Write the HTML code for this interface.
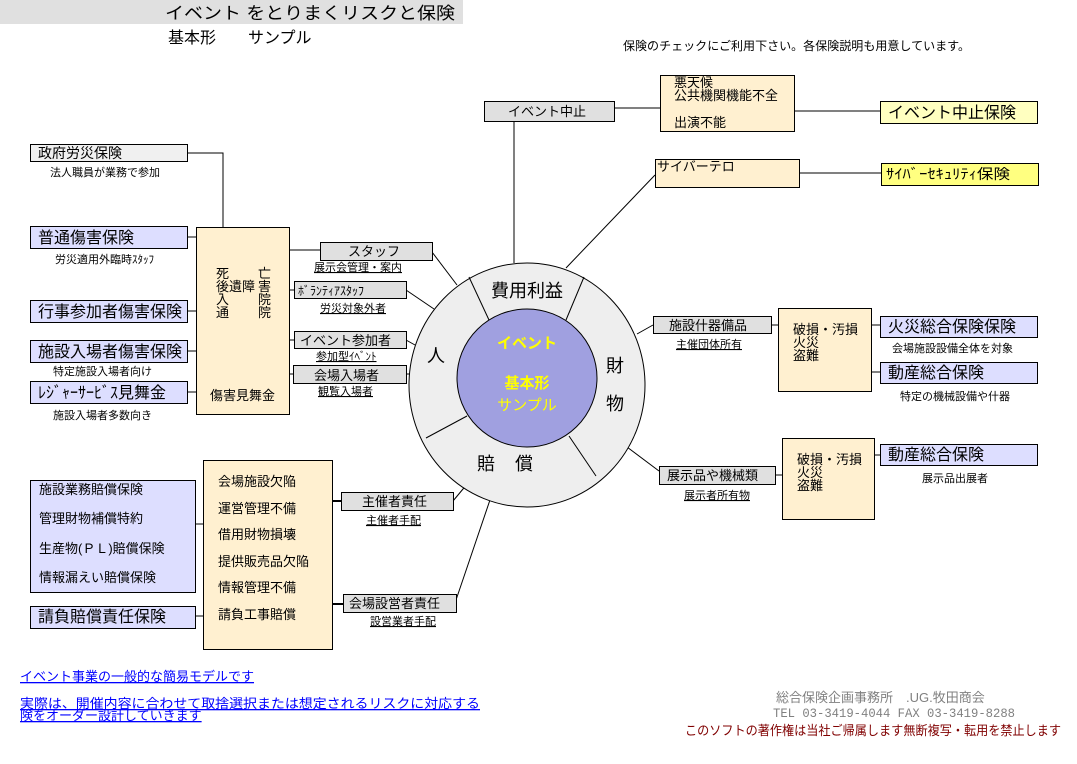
<!DOCTYPE html>
<html><head><meta charset="utf-8"><style>
html,body{margin:0;padding:0;background:#fff;}
svg{display:block;font-family:"Liberation Sans","Noto Sans CJK JP",sans-serif;}
</style></head><body>
<svg width="1077" height="764" viewBox="0 0 1077 764" xmlns="http://www.w3.org/2000/svg">
<g fill="#000" stroke="none">
<rect x="0" y="0" width="463" height="24" fill="#e0e0e0"/>
<text x="165" y="19" font-size="17" textLength="290" lengthAdjust="spacingAndGlyphs">イベント をとりまくリスクと保険</text>
<text x="168" y="43" font-size="16">基本形　　サンプル</text>
<text x="623" y="50" font-size="12" textLength="347" lengthAdjust="spacingAndGlyphs">保険のチェックにご利用下さい。各保険説明も用意しています。</text>
</g>

<!-- connectors -->
<g stroke="#000" stroke-width="1" fill="none">
<polyline points="187,153 223,153 223,227"/>
<line x1="187" y1="237" x2="196" y2="237"/>
<line x1="187" y1="311" x2="196" y2="311"/>
<line x1="187" y1="351" x2="196" y2="351"/>
<line x1="187" y1="392" x2="196" y2="392"/>
<line x1="289" y1="250" x2="320" y2="250"/>
<line x1="289" y1="290" x2="294" y2="290"/>
<line x1="289" y1="340" x2="294" y2="340"/>
<line x1="289" y1="374" x2="293" y2="374"/>
<line x1="432" y1="252" x2="457" y2="285"/>
<line x1="406" y1="290" x2="434" y2="309"/>
<line x1="406" y1="340" x2="415" y2="345"/>
<line x1="406" y1="374" x2="410" y2="374"/>
<line x1="514" y1="121" x2="514" y2="263"/>
<line x1="614" y1="108" x2="660" y2="108"/>
<line x1="795" y1="111" x2="880" y2="111"/>
<line x1="655" y1="175" x2="566" y2="268"/>
<line x1="799" y1="173" x2="881" y2="173"/>
<line x1="653" y1="325" x2="637" y2="334"/>
<line x1="771" y1="325" x2="778" y2="325"/>
<line x1="871" y1="325" x2="880" y2="325"/>
<line x1="871" y1="372" x2="880" y2="372"/>
<line x1="659" y1="471" x2="627" y2="447"/>
<line x1="775" y1="475" x2="782" y2="475"/>
<line x1="874" y1="455" x2="880" y2="455"/>
<line x1="195" y1="524" x2="203" y2="524"/>
<line x1="195" y1="616" x2="203" y2="616"/>
<line x1="329" y1="501" x2="341" y2="501" stroke-width="2"/>
<line x1="332" y1="604" x2="343" y2="604" stroke-width="2"/>
<line x1="453" y1="501" x2="468" y2="483"/>
<line x1="456" y1="600" x2="492" y2="494"/>
</g>

<!-- circle -->
<ellipse cx="527" cy="385" rx="118" ry="122" fill="#eeeeee" stroke="#000" stroke-width="1"/>
<g stroke="#000" stroke-width="1">
<line x1="469" y1="277" x2="489" y2="320"/>
<line x1="584" y1="277" x2="566" y2="320"/>
<line x1="426" y1="438" x2="467" y2="416"/>
<line x1="569" y1="436" x2="596" y2="476"/>
</g>
<ellipse cx="527" cy="378" rx="70" ry="69" fill="#a0a0e0" stroke="#000" stroke-width="1"/>
<g font-size="18" fill="#000">
<text x="491" y="297">費用利益</text>
<text x="427" y="362">人</text>
<text x="606" y="372">財</text>
<text x="606" y="410">物</text>
<text x="477" y="470">賠</text>
<text x="515" y="470">償</text>
</g>
<g fill="#ffff00" font-size="15" text-anchor="middle">
<text x="527" y="348" font-weight="bold">イベント</text>
<text x="527" y="388" font-weight="bold">基本形</text>
<text x="527" y="410">サンプル</text>
</g>

<!-- boxes -->
<g stroke="#000" stroke-width="1">
<rect x="30.5" y="144.5" width="157" height="17" fill="#f0f0f0"/>
<rect x="196.5" y="227.5" width="93" height="187" fill="#fff0d0"/>
<rect x="30.5" y="226.5" width="157" height="22" fill="#dddeff"/>
<rect x="30.5" y="300.5" width="157" height="22" fill="#dddeff"/>
<rect x="30.5" y="340.5" width="157" height="22" fill="#dddeff"/>
<rect x="30.5" y="381.5" width="157" height="22" fill="#dddeff"/>
<rect x="320.5" y="242.5" width="112" height="18" fill="#e0e0e0"/>
<rect x="294.5" y="281.5" width="112" height="17" fill="#e0e0e0"/>
<rect x="294.5" y="331.5" width="112" height="17" fill="#e0e0e0"/>
<rect x="293.5" y="365.5" width="113" height="18" fill="#e0e0e0"/>
<rect x="484.5" y="101.5" width="130" height="20" fill="#e0e0e0"/>
<rect x="660.5" y="75.5" width="134" height="56" fill="#fff0d0"/>
<rect x="880.5" y="101.5" width="157" height="22" fill="#ffffc0"/>
<rect x="655.5" y="159.5" width="144" height="28" fill="#fff0d0"/>
<rect x="881.5" y="163.5" width="157" height="22" fill="#ffff80"/>
<rect x="653.5" y="316.5" width="118" height="17" fill="#e0e0e0"/>
<rect x="778.5" y="308.5" width="93" height="83" fill="#fff0d0"/>
<rect x="880.5" y="316.5" width="157" height="21" fill="#dddeff"/>
<rect x="880.5" y="362.5" width="157" height="21" fill="#dddeff"/>
<rect x="659.5" y="466.5" width="116" height="18" fill="#e0e0e0"/>
<rect x="782.5" y="438.5" width="92" height="81" fill="#fff0d0"/>
<rect x="880.5" y="444.5" width="157" height="21" fill="#dddeff"/>
<rect x="30.5" y="480.5" width="165" height="112" fill="#dddeff"/>
<rect x="30.5" y="606.5" width="165" height="22" fill="#dddeff"/>
<rect x="203.5" y="460.5" width="129" height="189" fill="#fff0d0"/>
<rect x="341.5" y="492.5" width="112" height="18" fill="#e0e0e0"/>
<rect x="343.5" y="594.5" width="113" height="18" fill="#e0e0e0"/>
</g>

<!-- texts -->
<g fill="#000">
<text x="38" y="158" font-size="14">政府労災保険</text>
<text x="50" y="176" font-size="11">法人職員が業務で参加</text>
<g font-size="13">
<text x="216" y="278">死</text><text x="258" y="278">亡</text>
<text x="216" y="291">後</text><text x="229" y="291">遺障</text><text x="258" y="291">害</text>
<text x="216" y="304">入</text><text x="258" y="304">院</text>
<text x="216" y="317">通</text><text x="258" y="317">院</text>
<text x="210" y="400">傷害見舞金</text>
</g>
<g font-size="16">
<text x="38" y="243">普通傷害保険</text>
<text x="38" y="317">行事参加者傷害保険</text>
<text x="38" y="357">施設入場者傷害保険</text>
<text x="38" y="398" textLength="128" lengthAdjust="spacingAndGlyphs">ﾚｼﾞｬｰｻｰﾋﾞｽ見舞金</text>
</g>
<g font-size="11">
<text x="55" y="263">労災適用外臨時ｽﾀｯﾌ</text>
<text x="53" y="375">特定施設入場者向け</text>
<text x="53" y="419">施設入場者多数向き</text>
</g>
<g font-size="13">
<text x="348" y="256">スタッフ</text>
<text x="298" y="295" font-size="12">ﾎﾞﾗﾝﾃｨｱｽﾀｯﾌ</text>
<text x="300" y="345">イベント参加者</text>
<text x="314" y="380">会場入場者</text>
<text x="508" y="116">イベント中止</text>
<text x="674" y="87">悪天候</text>
<text x="674" y="100">公共機関機能不全</text>
<text x="674" y="127">出演不能</text>
<text x="657" y="171">サイバーテロ</text>
<text x="669" y="330">施設什器備品</text>
<text x="793" y="334">破損・汚損</text>
<text x="793" y="347">火災</text>
<text x="793" y="360">盗難</text>
<text x="667" y="480">展示品や機械類</text>
<text x="797" y="464">破損・汚損</text>
<text x="797" y="477">火災</text>
<text x="797" y="490">盗難</text>
<text x="39" y="494">施設業務賠償保険</text>
<text x="39" y="523">管理財物補償特約</text>
<text x="39" y="553">生産物(ＰＬ)賠償保険</text>
<text x="39" y="582">情報漏えい賠償保険</text>
<text x="218" y="486">会場施設欠陥</text>
<text x="218" y="513">運営管理不備</text>
<text x="218" y="539">借用財物損壊</text>
<text x="218" y="566">提供販売品欠陥</text>
<text x="218" y="592">情報管理不備</text>
<text x="218" y="619">請負工事賠償</text>
<text x="362" y="506">主催者責任</text>
<text x="349" y="608">会場設営者責任</text>
</g>
<g font-size="16">
<text x="888" y="118">イベント中止保険</text>
<text x="886" y="179" font-size="14" textLength="124" lengthAdjust="spacingAndGlyphs">ｻｲﾊﾞｰｾｷｭﾘﾃｨ保険</text>
<text x="888" y="332">火災総合保険保険</text>
<text x="888" y="378">動産総合保険</text>
<text x="888" y="460">動産総合保険</text>
<text x="38" y="622">請負賠償責任保険</text>
</g>
<g font-size="11" text-decoration="underline">
<text x="314" y="271">展示会管理・案内</text>
<text x="320" y="312">労災対象外者</text>
<text x="316" y="360">参加型ｲﾍﾞﾝﾄ</text>
<text x="318" y="395">観覧入場者</text>
<text x="676" y="348">主催団体所有</text>
<text x="684" y="499">展示者所有物</text>
<text x="366" y="524">主催者手配</text>
<text x="370" y="625">設営業者手配</text>
</g>
<g font-size="11">
<text x="892" y="352">会場施設設備全体を対象</text>
<text x="900" y="400">特定の機械設備や什器</text>
<text x="922" y="482">展示品出展者</text>
</g>
</g>
<g fill="#0000ff" font-size="13" text-decoration="underline">
<text x="20" y="681">イベント事業の一般的な簡易モデルです</text>
<text x="20" y="708" textLength="460" lengthAdjust="spacingAndGlyphs">実際は、開催内容に合わせて取捨選択または想定されるリスクに対応する</text>
<text x="20" y="720">険をオーダー設計していきます</text>
</g>
<text x="776" y="702" font-size="13" fill="#808080">総合保険企画事務所　.UG.牧田商会</text>
<text x="773" y="717" font-size="13" fill="#808080" font-family="Liberation Mono, monospace" textLength="242" lengthAdjust="spacingAndGlyphs">TEL 03-3419-4044 FAX 03-3419-8288</text>
<text x="685" y="735" font-size="13" fill="#800000" textLength="376" lengthAdjust="spacingAndGlyphs">このソフトの著作権は当社ご帰属します無断複写・転用を禁止します</text>
</svg>
</body></html>
